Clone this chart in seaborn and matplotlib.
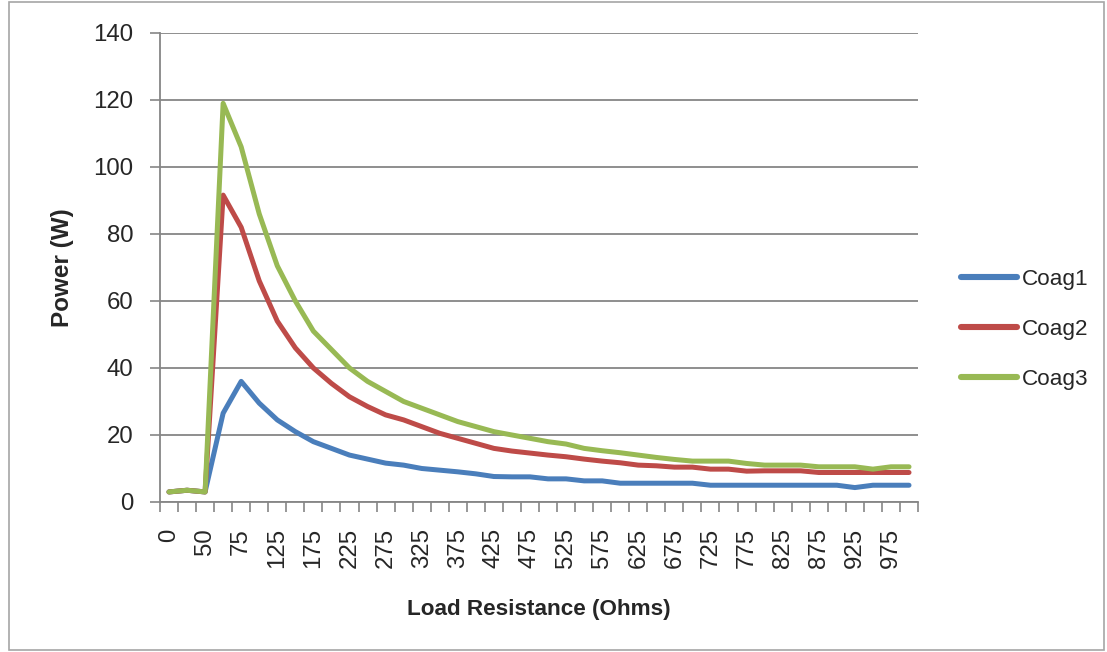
import matplotlib
matplotlib.use("Agg")
import matplotlib.pyplot as plt
import matplotlib.patches as mpatches
import numpy as np
import pandas as pd
import seaborn as sns

# Load resistance categories (ohms), plotted as an evenly spaced category axis
load_ohms = ["0", "25", "50", "60"] + [str(v) for v in range(75, 1001, 25)]

coag1 = [3.0, 3.5, 3.0, 26.5, 36.0, 29.5, 24.5, 21.0, 18.0, 16.0, 14.0, 12.8,
         11.6, 11.0, 10.0, 9.5, 9.0, 8.4, 7.6, 7.5, 7.5, 6.9, 6.9, 6.3, 6.3,
         5.6, 5.6, 5.6, 5.6, 5.6, 5.0, 5.0, 5.0, 5.0, 5.0, 5.0, 5.0, 5.0,
         4.3, 5.0, 5.0, 5.0]
coag2 = [3.0, 3.5, 3.0, 91.6, 82.0, 66.0, 54.0, 46.0, 40.0, 35.4, 31.4, 28.5,
         26.0, 24.5, 22.5, 20.5, 19.0, 17.5, 16.0, 15.2, 14.6, 14.0, 13.5,
         12.8, 12.2, 11.7, 11.0, 10.8, 10.4, 10.4, 9.8, 9.8, 9.2, 9.3, 9.3,
         9.3, 8.8, 8.8, 8.8, 8.8, 8.8, 8.8]
coag3 = [3.0, 3.5, 3.0, 119.0, 106.0, 86.0, 70.5, 60.0, 51.0, 45.5, 40.0, 36.0,
         33.0, 30.0, 28.0, 26.0, 24.0, 22.5, 21.0, 20.0, 19.0, 18.0, 17.3,
         16.0, 15.3, 14.7, 14.0, 13.3, 12.7, 12.2, 12.2, 12.2, 11.5, 11.0,
         11.0, 11.0, 10.5, 10.5, 10.5, 9.8, 10.5, 10.5]

series_names = ["Coag1", "Coag2", "Coag3"]
series_colors = ["#4A7EBB", "#BE4B48", "#98B954"]

frames = []
for name, vals in zip(series_names, [coag1, coag2, coag3]):
    frames.append(pd.DataFrame({
        "pos": np.arange(len(load_ohms)),
        "load": load_ohms,
        "power": vals,
        "series": name,
    }))
df = pd.concat(frames, ignore_index=True)

sns.set_theme(style="white")
plt.rcParams["font.family"] = ["Liberation Sans", "DejaVu Sans"]

GRAY = "#868686"
fig = plt.figure(figsize=(11.07, 6.52), dpi=100)
ax = fig.add_axes([0.1445, 0.2301, 0.8293 - 0.1445, 0.9494 - 0.2301])

sns.lineplot(data=df, x="pos", y="power", hue="series", palette=series_colors,
             linewidth=3.6, ax=ax, legend=True)
for ln in ax.lines:
    ln.set_solid_capstyle("round")
    ln.set_solid_joinstyle("round")

n = len(load_ohms)
ax.set_xlim(-0.5, n - 0.5)
ax.set_ylim(0, 140)
ax.set_yticks(np.arange(0, 141, 20))
ax.yaxis.grid(True, color=GRAY, linewidth=1.3)
ax.set_axisbelow(True)

# Labels on every other category; tick marks on the category boundaries
label_pos = np.arange(0, n, 2)
ax.set_xticks(label_pos)
ax.set_xticklabels([load_ohms[i] for i in label_pos], rotation=90, fontsize=17.3)
ax.set_xticks(np.arange(-0.5, n, 1.0), minor=True)
ax.tick_params(axis="x", which="major", length=0, pad=19)
ax.tick_params(axis="x", which="minor", length=7, width=1.2, color=GRAY,
               direction="out", bottom=True)
ax.tick_params(axis="y", which="major", length=7, width=1.2, color=GRAY,
               direction="out", left=True, labelsize=17.3, pad=12)

for side in ["top", "right"]:
    ax.spines[side].set_visible(False)
for side in ["left", "bottom"]:
    ax.spines[side].set_color(GRAY)
    ax.spines[side].set_linewidth(1.3)

ax.set_xlabel("Load Resistance (Ohms)", fontsize=16.2, fontweight="bold", labelpad=22)
ax.set_ylabel("Power (W)", fontsize=17.5, fontweight="bold", labelpad=14)

leg = ax.legend(loc="center left", bbox_to_anchor=(1.03, 0.368), frameon=False,
                fontsize=16.2, handlelength=2.5, handletextpad=0.2,
                labelspacing=1.3, title=None)
for h in leg.get_lines():
    h.set_linewidth(4.4)
    h.set_solid_capstyle("round")

# Light border round the whole chart area
fig.patches.append(mpatches.Rectangle((0.008, 0.003), 0.989, 0.994,
                                      transform=fig.transFigure, fill=False,
                                      edgecolor="#A6A6A6", linewidth=1.2))

fig.savefig("out.png", dpi=100)
